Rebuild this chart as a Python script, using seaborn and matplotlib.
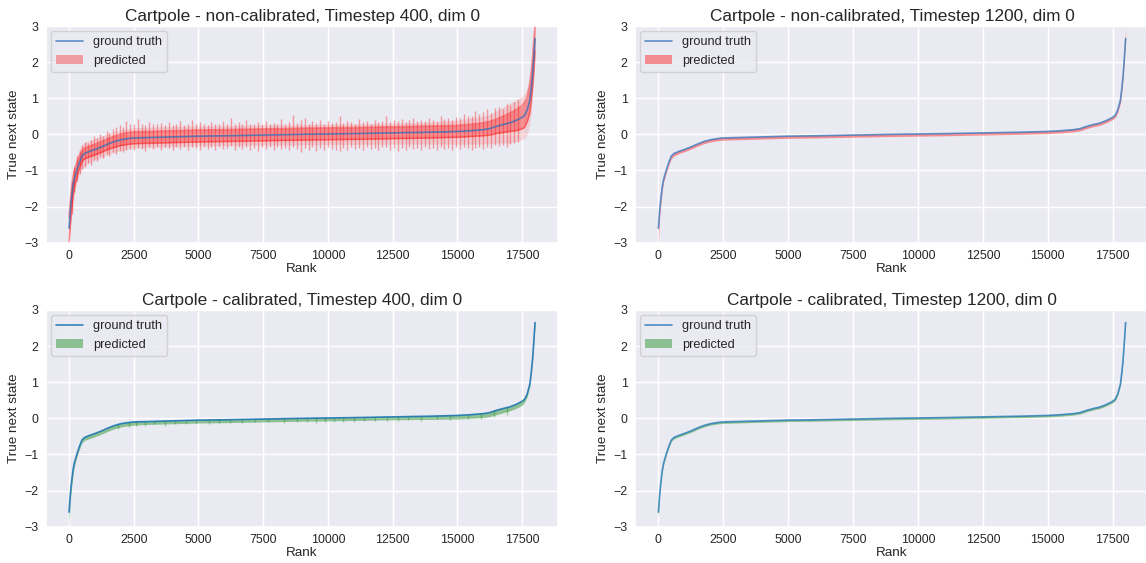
import numpy as np
import pandas as pd
import matplotlib
matplotlib.use("Agg")
import matplotlib.pyplot as plt
import seaborn as sns

# ---------------- data ----------------
rank = [0, 50, 100, 150, 200, 300, 400, 500, 600, 800, 1000, 1250, 1500, 1750,
        2000, 2250, 2500, 3000, 4000, 5000, 6000, 7500, 9000, 10000, 11000,
        12500, 14000, 15000, 15500, 16000, 16250, 16500, 16750, 17000, 17250,
        17500, 17600, 17700, 17800, 17850, 17900, 17950, 18000]

ground_truth = [-2.6, -2.1, -1.75, -1.45, -1.25, -1.0, -0.78, -0.6, -0.53, -0.47,
                -0.42, -0.35, -0.27, -0.2, -0.15, -0.12, -0.10, -0.09, -0.07, -0.05,
                -0.04, -0.02, 0.0, 0.01, 0.02, 0.04, 0.06, 0.08, 0.10, 0.13, 0.16,
                0.22, 0.27, 0.31, 0.38, 0.47, 0.53, 0.68, 0.95, 1.25, 1.6, 2.1, 2.65]

# non-calibrated, timestep 400 : dense core band and lighter outer spread
nc400_core_lo = [-3.0, -2.5, -2.1, -1.75, -1.5, -1.2, -0.95, -0.75, -0.68, -0.62,
                 -0.57, -0.5, -0.42, -0.36, -0.31, -0.28, -0.26, -0.25, -0.23, -0.21,
                 -0.2, -0.18, -0.16, -0.15, -0.14, -0.12, -0.10, -0.08, -0.06, -0.04,
                 -0.02, 0.02, 0.05, 0.08, 0.1, 0.15, 0.2, 0.35, 0.6, 0.9, 1.25, 1.7, 2.3]
nc400_core_hi = [-2.3, -1.8, -1.45, -1.2, -1.0, -0.8, -0.6, -0.45, -0.38, -0.32,
                 -0.27, -0.2, -0.12, -0.05, 0.01, 0.05, 0.07, 0.08, 0.1, 0.12,
                 0.13, 0.15, 0.17, 0.18, 0.19, 0.21, 0.23, 0.25, 0.28, 0.32,
                 0.36, 0.42, 0.5, 0.58, 0.68, 0.8, 0.9, 1.05, 1.4, 1.7, 2.1, 2.6, 3.0]
nc400_outer_lo = [-3.1, -2.7, -2.3, -1.95, -1.7, -1.35, -1.1, -0.95, -0.88, -0.78,
                  -0.72, -0.64, -0.56, -0.5, -0.45, -0.41, -0.38, -0.36, -0.34, -0.32,
                  -0.31, -0.3, -0.29, -0.28, -0.28, -0.27, -0.27, -0.27, -0.27, -0.27,
                  -0.26, -0.24, -0.24, -0.24, -0.2, -0.15, -0.1, 0.0, 0.3, 0.6, 1.0, 1.5, 2.1]
nc400_outer_hi = [-1.9, -1.6, -1.3, -1.0, -0.85, -0.6, -0.4, -0.3, -0.22, -0.17,
                  -0.12, -0.05, 0.02, 0.07, 0.12, 0.16, 0.18, 0.2, 0.22, 0.23,
                  0.24, 0.26, 0.27, 0.28, 0.29, 0.31, 0.34, 0.4, 0.45, 0.5,
                  0.56, 0.65, 0.75, 0.85, 0.95, 1.05, 1.15, 1.3, 1.7, 2.0, 2.4, 2.9, 3.1]

nc400_spike_rank = [100, 200, 320, 420, 520, 620, 750, 850, 980, 1080, 1200, 1320,
                    1450, 1550, 1680, 1800, 1950, 2080, 2200, 2350, 2500, 2650, 2800,
                    2950, 3100, 3250, 3400, 3550, 3700, 3850, 4000, 4150, 4300, 4450,
                    4600, 4750, 4900, 5050, 5200, 5350, 5500, 5650, 5800, 5950, 6100,
                    6250, 6400, 6550, 6700, 6850, 7000, 7150, 7300, 7450, 7600, 7750,
                    7900, 8050, 8200, 8350, 8500, 8650, 8800, 8950, 9100, 9250, 9400,
                    9550, 9700, 9850, 10000, 10150, 10300, 10450, 10600, 10750, 10900,
                    11050, 11200, 11350, 11500, 11650, 11800, 11950, 12100, 12250,
                    12400, 12550, 12700, 12850, 13000, 13150, 13300, 13450, 13600,
                    13750, 13900, 14050, 14200, 14350, 14500, 14650, 14800, 14950,
                    15100, 15250, 15400, 15550, 15700, 15850, 16000, 16150, 16300,
                    16450, 16600, 16750, 16900, 17050, 17200, 17350]
nc400_spike_lo = [-2.2, -1.6, -1.3, -1.1, -0.95, -0.9, -0.8, -0.85, -0.7, -0.75, -0.6,
                  -0.65, -0.55, -0.6, -0.5, -0.55, -0.45, -0.5, -0.42, -0.4, -0.44,
                  -0.38, -0.4, -0.46, -0.36, -0.4, -0.35, -0.44, -0.36, -0.38, -0.42,
                  -0.34, -0.4, -0.36, -0.44, -0.35, -0.38, -0.42, -0.35, -0.4, -0.36,
                  -0.43, -0.34, -0.4, -0.37, -0.32, -0.42, -0.36, -0.4, -0.35, -0.44,
                  -0.38, -0.47, -0.36, -0.4, -0.35, -0.42, -0.36, -0.4, -0.38, -0.44,
                  -0.35, -0.4, -0.5, -0.38, -0.42, -0.36, -0.45, -0.38, -0.42, -0.36,
                  -0.4, -0.44, -0.46, -0.38, -0.42, -0.36, -0.4, -0.38, -0.44, -0.36,
                  -0.4, -0.38, -0.42, -0.35, -0.34, -0.42, -0.38, -0.47, -0.38, -0.42,
                  -0.36, -0.4, -0.38, -0.42, -0.35, -0.4, -0.38, -0.42, -0.36, -0.4,
                  -0.38, -0.42, -0.36, -0.4, -0.35, -0.38, -0.42, -0.38, -0.36, -0.4,
                  -0.34, -0.38, -0.3, -0.32, -0.3, -0.35, -0.28, -0.25, -0.2]
nc400_spike_hi = [-1.3, -0.9, -0.6, -0.45, -0.3, -0.2, -0.25, -0.15, -0.05, -0.1, 0.0,
                  -0.05, 0.1, 0.05, 0.15, 0.2, 0.25, 0.2, 0.38, 0.3, 0.28, 0.42, 0.3,
                  0.25, 0.35, 0.3, 0.28, 0.32, 0.25, 0.35, 0.27, 0.3, 0.38, 0.26, 0.3,
                  0.4, 0.28, 0.33, 0.3, 0.26, 0.35, 0.3, 0.28, 0.36, 0.3, 0.45, 0.28,
                  0.33, 0.3, 0.4, 0.3, 0.28, 0.35, 0.3, 0.38, 0.28, 0.32, 0.3, 0.42,
                  0.3, 0.35, 0.53, 0.32, 0.4, 0.45, 0.3, 0.36, 0.32, 0.4, 0.3, 0.38,
                  0.32, 0.35, 0.5, 0.32, 0.38, 0.34, 0.3, 0.42, 0.33, 0.36, 0.3, 0.4,
                  0.35, 0.38, 0.5, 0.35, 0.4, 0.36, 0.42, 0.35, 0.4, 0.45, 0.36, 0.4,
                  0.38, 0.44, 0.4, 0.38, 0.5, 0.42, 0.45, 0.4, 0.48, 0.44, 0.55, 0.5,
                  0.52, 0.65, 0.55, 0.62, 0.7, 0.6, 0.72, 0.75, 0.7, 0.85, 0.8, 0.9,
                  0.95]

# non-calibrated, timestep 1200
nc1200_lo = [-3.0, -2.3, -1.9, -1.56, -1.33, -1.08, -0.86, -0.67, -0.6, -0.53,
             -0.48, -0.41, -0.33, -0.26, -0.21, -0.18, -0.16, -0.15, -0.13, -0.11,
             -0.1, -0.08, -0.06, -0.05, -0.04, -0.02, 0.0, 0.02, 0.04, 0.07,
             0.1, 0.16, 0.21, 0.25, 0.32, 0.41, 0.47, 0.61, 0.87, 1.17, 1.52, 2.02, 2.6]
nc1200_hi = [-2.55, -2.05, -1.72, -1.43, -1.23, -0.99, -0.77, -0.59, -0.52, -0.46,
             -0.41, -0.34, -0.26, -0.19, -0.14, -0.11, -0.09, -0.08, -0.06, -0.04,
             -0.03, -0.01, 0.01, 0.02, 0.03, 0.05, 0.07, 0.09, 0.11, 0.14,
             0.17, 0.23, 0.28, 0.32, 0.39, 0.48, 0.55, 0.7, 1.0, 1.32, 1.7, 2.25, 2.95]

# calibrated, timestep 400
c400_lo = [-2.95, -2.3, -1.9, -1.6, -1.35, -1.08, -0.86, -0.68, -0.61, -0.56,
           -0.51, -0.44, -0.36, -0.29, -0.24, -0.21, -0.19, -0.17, -0.15, -0.13,
           -0.12, -0.1, -0.08, -0.07, -0.06, -0.04, -0.03, -0.02, 0.0, 0.02,
           0.05, 0.1, 0.15, 0.2, 0.27, 0.36, 0.45, 0.6, 0.88, 1.18, 1.53, 2.0, 2.55]
c400_hi = [-2.55, -2.05, -1.7, -1.42, -1.22, -0.98, -0.76, -0.58, -0.51, -0.45,
           -0.4, -0.33, -0.25, -0.18, -0.13, -0.1, -0.08, -0.07, -0.05, -0.03,
           -0.02, 0.0, 0.02, 0.03, 0.04, 0.06, 0.08, 0.1, 0.12, 0.15,
           0.18, 0.24, 0.29, 0.33, 0.4, 0.49, 0.56, 0.72, 1.0, 1.32, 1.7, 2.2, 2.78]
c400_spike_rank = [1900, 2300, 2600, 2950, 3300, 3700, 4100, 4500, 4900, 5400, 5800,
                   6200, 6700, 7200, 7700, 8300, 8800, 9200, 9550, 9900, 10250,
                   10600, 11000, 11400, 11800, 12300, 12700, 13100, 13600, 14200,
                   14700, 15400, 15900, 16400, 16900]
c400_spike_lo = [-0.3, -0.24, -0.2, -0.22, -0.17, -0.2, -0.16, -0.17, -0.14, -0.16,
                 -0.13, -0.13, -0.14, -0.11, -0.1, -0.12, -0.1, -0.1, -0.12, -0.09,
                 -0.11, -0.09, -0.1, -0.08, -0.07, -0.06, -0.08, -0.05, -0.06, -0.03,
                 -0.04, -0.02, -0.02, 0.04, 0.1]
c400_spike_hi = [-0.12, -0.09, -0.08, -0.08, -0.07, -0.07, -0.06, -0.06, -0.04, -0.04,
                 -0.03, -0.03, -0.02, -0.01, -0.01, 0.0, 0.02, 0.02, 0.03, 0.04,
                 0.04, 0.04, 0.05, 0.05, 0.05, 0.06, 0.06, 0.06, 0.07, 0.08,
                 0.08, 0.1, 0.14, 0.24, 0.33]

# calibrated, timestep 1200
c1200_lo = [-2.75, -2.17, -1.8, -1.49, -1.29, -1.04, -0.82, -0.64, -0.57, -0.51,
            -0.46, -0.39, -0.31, -0.24, -0.19, -0.16, -0.14, -0.13, -0.11, -0.09,
            -0.08, -0.06, -0.04, -0.03, -0.02, 0.0, 0.02, 0.04, 0.06, 0.09,
            0.12, 0.18, 0.23, 0.27, 0.34, 0.43, 0.49, 0.64, 0.9, 1.2, 1.55, 2.05, 2.6]
c1200_hi = [-2.57, -2.07, -1.73, -1.44, -1.24, -0.99, -0.77, -0.59, -0.52, -0.46,
            -0.41, -0.34, -0.26, -0.19, -0.14, -0.11, -0.09, -0.08, -0.06, -0.04,
            -0.03, -0.01, 0.01, 0.02, 0.03, 0.05, 0.07, 0.09, 0.11, 0.14,
            0.17, 0.23, 0.28, 0.32, 0.39, 0.48, 0.55, 0.7, 0.98, 1.28, 1.63, 2.13, 2.75]

titles = ["Cartpole - non-calibrated, Timestep 400, dim 0",
          "Cartpole - non-calibrated, Timestep 1200, dim 0",
          "Cartpole - calibrated, Timestep 400, dim 0",
          "Cartpole - calibrated, Timestep 1200, dim 0"]

# ---------------- style ----------------
sns.set_theme(style="darkgrid")
plt.rcParams["font.family"] = ["Liberation Sans", "DejaVu Sans"]
TICK_FS = 8.9
LABEL_FS = 9.7
TITLE_FS = 12.4
LEGEND_FS = 9.2

fig = plt.figure(figsize=(11.46, 5.63), dpi=100)
positions = [[0.0399, 0.5689, 0.4473, 0.3849],
             [0.5541, 0.5689, 0.4485, 0.3849],
             [0.0399, 0.0645, 0.4473, 0.3849],
             [0.5541, 0.0645, 0.4485, 0.3849]]
axes = [fig.add_axes(p) for p in positions]

df = pd.DataFrame({"rank": rank, "truth": ground_truth})

panels = [
    dict(color="red", line_color="#2f6fb8", line_alpha=0.75,
         bands=[(nc400_outer_lo, nc400_outer_hi, 0.12),
                (nc400_core_lo, nc400_core_hi, 0.33)],
         edges=(nc400_core_lo, nc400_core_hi),
         spikes=(nc400_spike_rank, nc400_spike_lo, nc400_spike_hi, 0.35)),
    dict(color="red", line_color="#2f6fb8", line_alpha=0.75,
         bands=[(nc1200_lo, nc1200_hi, 0.4)], edges=None, spikes=None),
    dict(color="green", line_color="#1f77b4", line_alpha=0.9,
         bands=[(c400_lo, c400_hi, 0.4)], edges=None,
         spikes=(c400_spike_rank, c400_spike_lo, c400_spike_hi, 0.3)),
    dict(color="green", line_color="#1f77b4", line_alpha=0.8,
         bands=[(c1200_lo, c1200_hi, 0.4)], edges=None, spikes=None),
]

for ax, title, p in zip(axes, titles, panels):
    for i, (lo, hi, a) in enumerate(p["bands"]):
        lab = "predicted" if i == len(p["bands"]) - 1 else None
        ax.fill_between(rank, lo, hi, color=p["color"], alpha=a, linewidth=0,
                        label=lab, zorder=2)
    if p["edges"] is not None:
        for edge in p["edges"]:
            ax.plot(rank, edge, color=p["color"], alpha=0.35, linewidth=1.2, zorder=2)
    if p["spikes"] is not None:
        sr, slo, shi, sa = p["spikes"]
        ax.vlines(sr, slo, shi, colors=p["color"], alpha=sa, linewidth=1.0, zorder=2)
    sns.lineplot(data=df, x="rank", y="truth", ax=ax, color=p["line_color"],
                 alpha=p["line_alpha"], linewidth=1.2, label="ground truth", zorder=3)
    ax.set_ylim(-3, 3)
    ax.set_yticks([-3, -2, -1, 0, 1, 2, 3])
    ax.set_xticks([0, 2500, 5000, 7500, 10000, 12500, 15000, 17500])
    ax.set_xlabel("Rank", fontsize=LABEL_FS, labelpad=1)
    ax.set_ylabel("True next state", fontsize=LABEL_FS, labelpad=3)
    ax.set_title(title, fontsize=TITLE_FS, pad=3.5)
    ax.tick_params(labelsize=TICK_FS, length=0, pad=5.3)
    h, l = ax.get_legend_handles_labels()
    order = [l.index("ground truth"), l.index("predicted")]
    ax.legend([h[k] for k in order], [l[k] for k in order], loc="upper left",
              fontsize=LEGEND_FS, handlelength=2.1, borderaxespad=0.4)

fig.savefig("out.png", dpi=100)
